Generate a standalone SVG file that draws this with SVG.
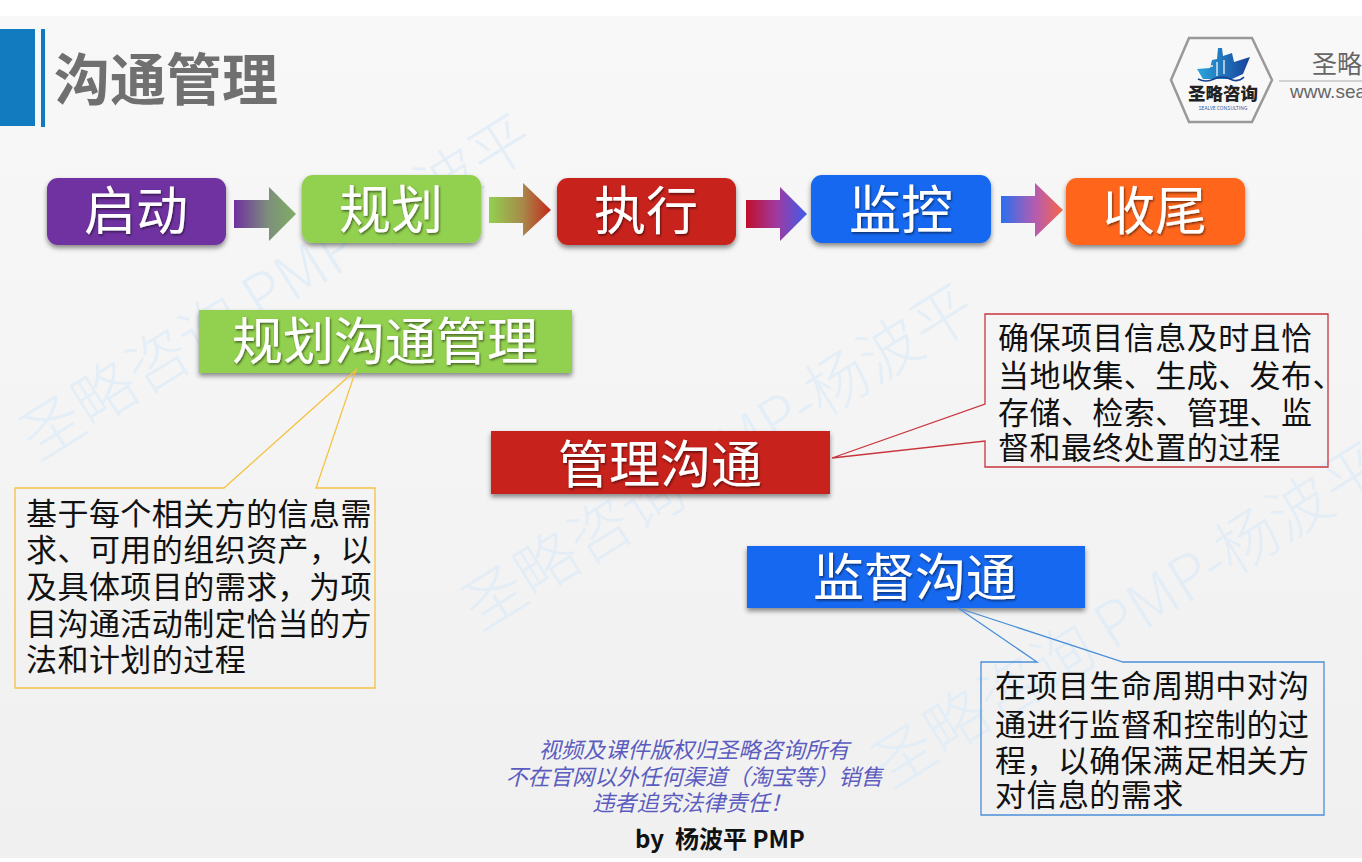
<svg xmlns="http://www.w3.org/2000/svg" width="1362" height="862" viewBox="0 0 1362 862">
<style>
text{font-family:"Noto Sans CJK SC","Liberation Sans",sans-serif}
.wm{font-size:62px;fill:#dfecf7;opacity:.75;font-weight:300}
.step{font-size:52px;fill:#fff;text-anchor:middle;filter:url(#ts)}
.sub{font-size:51px;fill:#fff;text-anchor:middle;filter:url(#ts)}
.body{font-size:31px;fill:#111;letter-spacing:.45px}
.note{font-size:22.2px;fill:#5c5cc0;font-style:italic;text-anchor:middle}
.call{fill:none;stroke-width:1.3}
</style>
<defs>
<linearGradient id="bg" x1="0" y1="0" x2="0" y2="1"><stop offset="0" stop-color="#f8f8f8"/><stop offset="1" stop-color="#f0f0f0"/></linearGradient>
<linearGradient id="a1"><stop offset="0" stop-color="#7030a0"/><stop offset=".55" stop-color="#7d8f7c"/><stop offset="1" stop-color="#7fae62"/></linearGradient>
<linearGradient id="a2"><stop offset="0" stop-color="#92d050"/><stop offset=".55" stop-color="#a8884a"/><stop offset="1" stop-color="#c4281a"/></linearGradient>
<linearGradient id="a3"><stop offset="0" stop-color="#c00f2c"/><stop offset=".5" stop-color="#a03aa0"/><stop offset="1" stop-color="#3f5cea"/></linearGradient>
<linearGradient id="a4"><stop offset="0" stop-color="#2a6ff0"/><stop offset=".55" stop-color="#b45cb0"/><stop offset="1" stop-color="#f8664a"/></linearGradient>
<linearGradient id="hull"><stop offset="0" stop-color="#2ba6dc"/><stop offset="1" stop-color="#17409a"/></linearGradient>
<filter id="sh" x="-10%" y="-20%" width="120%" height="150%"><feDropShadow dx="0" dy="3" stdDeviation="2.5" flood-color="#000" flood-opacity=".45"/></filter>
<filter id="ts" x="-10%" y="-10%" width="120%" height="130%"><feDropShadow dx="1" dy="1.5" stdDeviation=".8" flood-color="#000" flood-opacity=".55"/></filter>
</defs>
<rect width="1362" height="862" fill="#fff"/>
<rect y="16" width="1362" height="842" fill="url(#bg)"/>
<g id="watermarks">
<text class="wm" transform="translate(38 462) rotate(-32)">圣略咨询 PMP-杨波平</text>
<text class="wm" transform="translate(480 632) rotate(-32)">圣略咨询 PMP-杨波平</text>
<text class="wm" transform="translate(890 790) rotate(-32)">圣略咨询 PMP-杨波平</text>
</g>
<g id="header">
<rect x="0" y="29" width="35" height="97" fill="#127bbf"/>
<rect x="41" y="29" width="4" height="98" fill="#127bbf"/>
<text x="54" y="100" font-size="56" font-weight="700" fill="#707070">沟通管理</text>
</g>
<g id="logo">
<polygon points="1189,38 1252,38 1272,80 1252,122 1189,122 1171,80" fill="#f8f8f8" stroke="#999" stroke-width="2.5"/>
<polygon points="1197,69 1210,68 1212,60 1217,59 1218,48 1222,48 1223,56 1232,53 1234,62 1250,57 1243,74 1232,79 1203,79" fill="url(#hull)"/>
<path d="M1204,66h9M1217,62v14M1224,60v14" stroke="#f4f4f4" stroke-width="1.3" fill="none"/>
<path d="M1198,79q8,4 16,0t16,0t14,-2" fill="none" stroke="#17418f" stroke-width="1.6"/>
<text x="1223" y="100" font-size="17.5" font-weight="900" fill="#222" text-anchor="middle">圣略咨询</text>
<text x="1223" y="110" font-size="5" fill="#2a5fa8" text-anchor="middle">SEALVE CONSULTING</text>
<line x1="1279" y1="81" x2="1362" y2="81" stroke="#aaa" stroke-width="1"/>
<text x="1312" y="73" font-size="25" fill="#666">圣略</text>
<text x="1290" y="98" font-size="19" fill="#666" style="font-family:'Liberation Sans',sans-serif">www.sea</text>
</g>
<g id="connectors">
<polygon points="234,200 269,200 269,187 296,214 269,241 269,228 234,228" fill="url(#a1)"/>
<polygon points="489,197 523,197 523,183 551,210 523,236 523,223 489,223" fill="url(#a2)"/>
<polygon points="746,200 780,200 780,187 807,214 780,241 780,228 746,228" fill="url(#a3)"/>
<polygon points="1001,196 1035,196 1035,183 1063,210 1035,237 1035,223 1001,223" fill="url(#a4)"/>
</g>
<g id="step-qidong"><rect x="47" y="178" width="179" height="67" rx="11" fill="#7030a0" filter="url(#sh)"/><text class="step" x="136" y="230">启动</text></g>
<g id="step-guihua"><rect x="302" y="175" width="179" height="68" rx="11" fill="#92d050" filter="url(#sh)"/><text class="step" x="391" y="229">规划</text></g>
<g id="step-zhixing"><rect x="557" y="178" width="179" height="67" rx="11" fill="#c8231a" filter="url(#sh)"/><text class="step" x="646" y="230">执行</text></g>
<g id="step-jiankong"><rect x="811" y="175" width="180" height="68" rx="11" fill="#1268f0" filter="url(#sh)"/><text class="step" x="901" y="229">监控</text></g>
<g id="step-shouwei"><rect x="1066" y="178" width="179" height="67" rx="11" fill="#ff661c" filter="url(#sh)"/><text class="step" x="1155" y="230">收尾</text></g>
<g id="proc-plan"><rect x="199" y="310" width="373" height="63" fill="#92d050" filter="url(#sh)"/><text class="sub" x="385" y="360">规划沟通管理</text></g>
<g id="proc-manage"><rect x="491" y="431" width="339" height="63" fill="#c8231a" filter="url(#sh)"/><text class="sub" x="660" y="483">管理沟通</text></g>
<g id="proc-monitor"><rect x="747" y="546" width="338" height="62" fill="#1268f0" filter="url(#sh)"/><text class="sub" x="915" y="596">监督沟通</text></g>
<g id="callout-plan">
<path class="call" stroke="#f5c242" d="M15,488H224L356,370L316,488H375V688H15Z"/>
<text class="body"><tspan x="26" y="525">基于每个相关方的信息需</tspan><tspan x="26" y="561">求、可用的组织资产，以</tspan><tspan x="26" y="598">及具体项目的需求，为项</tspan><tspan x="26" y="635">目沟通活动制定恰当的方</tspan><tspan x="26" y="671">法和计划的过程</tspan></text>
</g>
<g id="callout-manage">
<path class="call" stroke="#c8343c" d="M985,314H1328V467H985V441L832,458L985,404Z"/>
<text class="body"><tspan x="998" y="349">确保项目信息及时且恰</tspan><tspan x="998" y="387">当地收集、生成、发布、</tspan><tspan x="998" y="424">存储、检索、管理、监</tspan><tspan x="998" y="459">督和最终处置的过程</tspan></text>
</g>
<g id="callout-monitor">
<path class="call" stroke="#4a8fd8" d="M981,662H1037L958,608L1123,662H1324V815H981Z"/>
<text class="body"><tspan x="995" y="697">在项目生命周期中对沟</tspan><tspan x="995" y="736">通进行监督和控制的过</tspan><tspan x="995" y="772">程，以确保满足相关方</tspan><tspan x="995" y="806">对信息的需求</tspan></text>
</g>
<g id="notice">
<text class="note" x="694" y="758">视频及课件版权归圣略咨询所有</text>
<text class="note" x="694" y="785">不在官网以外任何渠道（淘宝等）销售</text>
<text class="note" x="692" y="811">违者追究法律责任！</text>
<text x="635" y="848" font-size="24" font-weight="700" fill="#111">by&#160; 杨波平 PMP</text>
</g>
</svg>
